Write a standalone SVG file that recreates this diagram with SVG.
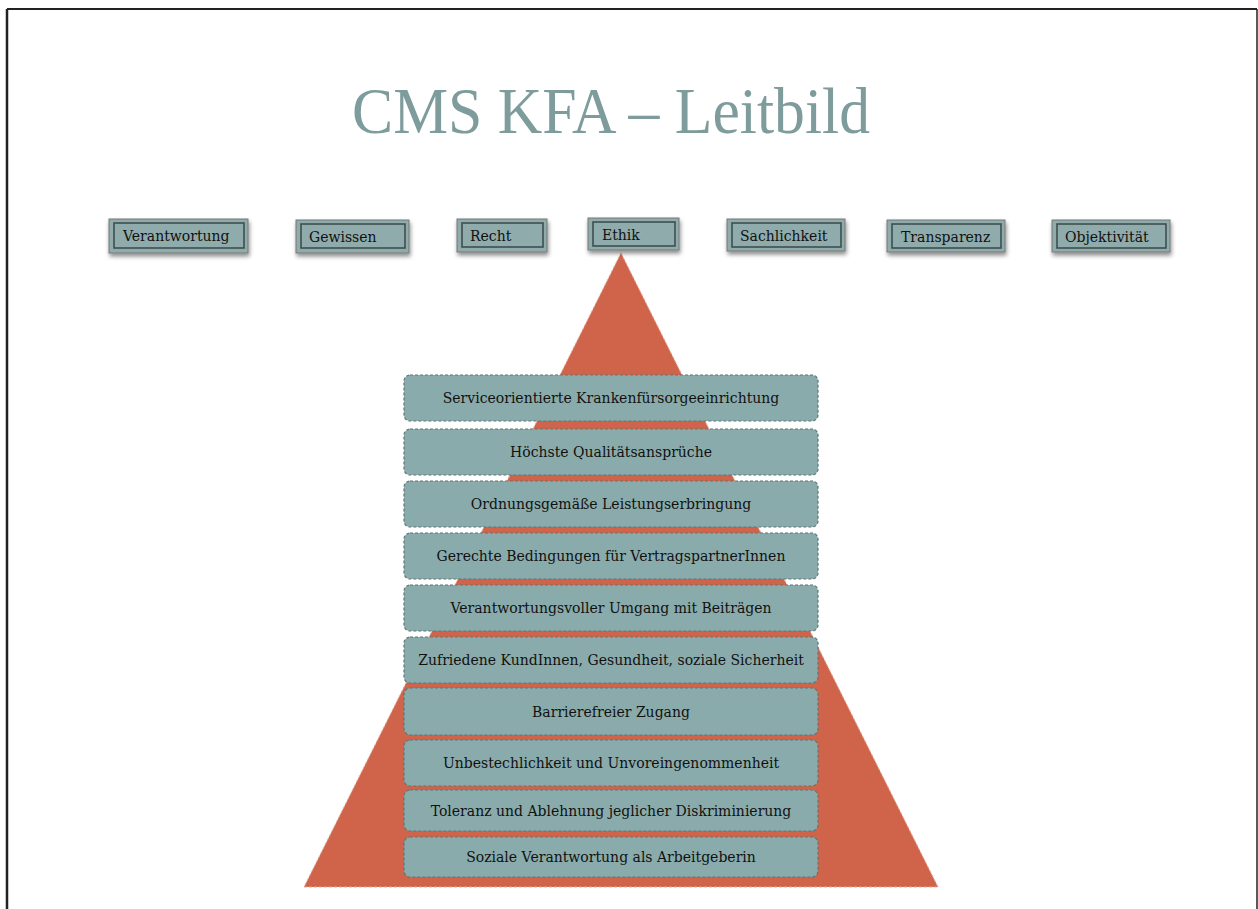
<svg xmlns="http://www.w3.org/2000/svg" width="1258" height="909" viewBox="0 0 1258 909">
<defs>
<filter id="sh" x="-20%" y="-30%" width="140%" height="170%">
<feDropShadow dx="1" dy="3" stdDeviation="2" flood-color="#000" flood-opacity="0.45"/>
</filter>
<style>
.tb{fill:#8fabab;stroke:#777;stroke-width:1}
.ti{fill:none;stroke:#3d4f4f;stroke-width:1.6}
.tt{font-family:"DejaVu Serif","Liberation Serif",serif;font-size:14px;fill:#111}
.pb{fill:#8aabab;stroke:#5e7676;stroke-width:1.2;stroke-dasharray:3 2}
.pt{font-family:"DejaVu Serif","Liberation Serif",serif;font-size:14px;fill:#111;text-anchor:middle}
</style>
</defs>
<rect width="1258" height="909" fill="#fff"/>
<g id="border" fill="none" stroke="#222">
<line x1="7" y1="9" x2="1257" y2="9" stroke-width="2"/>
<line x1="7" y1="9" x2="7" y2="909" stroke-width="2.5"/>
<line x1="1257" y1="9" x2="1257" y2="909" stroke-width="1.5"/>
</g>
<text id="title" x="352" y="133" font-family="Liberation Serif, Times New Roman, serif" font-size="66" fill="#7f9c9c" textLength="518" lengthAdjust="spacingAndGlyphs">CMS KFA – Leitbild</text>
<g id="pyramid">
<polygon points="621,253 938,887 304,887" fill="#d0644a" stroke="#eaa89a" stroke-width="1" stroke-dasharray="3 2"/>
</g>
<g id="values">
<g id="v1"><rect class="tb" x="109" y="219" width="139" height="34" filter="url(#sh)"/><rect class="ti" x="114" y="223" width="130" height="25"/><text class="tt" x="123" y="241">Verantwortung</text></g>
<g id="v2"><rect class="tb" x="296" y="220" width="113" height="33" filter="url(#sh)"/><rect class="ti" x="301" y="224" width="104" height="24"/><text class="tt" x="309" y="242">Gewissen</text></g>
<g id="v3"><rect class="tb" x="457" y="219" width="90" height="33" filter="url(#sh)"/><rect class="ti" x="462" y="223" width="81" height="24"/><text class="tt" x="470" y="241">Recht</text></g>
<g id="v4"><rect class="tb" x="588" y="218" width="91" height="32" filter="url(#sh)"/><rect class="ti" x="593" y="222" width="82" height="24"/><text class="tt" x="602" y="240">Ethik</text></g>
<g id="v5"><rect class="tb" x="727" y="219" width="118" height="32" filter="url(#sh)"/><rect class="ti" x="732" y="223" width="109" height="24"/><text class="tt" x="740" y="241">Sachlichkeit</text></g>
<g id="v6"><rect class="tb" x="887" y="220" width="118" height="32" filter="url(#sh)"/><rect class="ti" x="892" y="224" width="109" height="24"/><text class="tt" x="901" y="242">Transparenz</text></g>
<g id="v7"><rect class="tb" x="1052" y="220" width="118" height="32" filter="url(#sh)"/><rect class="ti" x="1057" y="224" width="109" height="24"/><text class="tt" x="1065" y="242">Objektivität</text></g>
</g>
<g id="levels">
<g id="l1"><rect class="pb" x="404" y="375" width="414" height="46" rx="6"/><text class="pt" x="611" y="403">Serviceorientierte Krankenfürsorgeeinrichtung</text></g>
<g id="l2"><rect class="pb" x="404" y="429" width="414" height="46" rx="6"/><text class="pt" x="611" y="457">Höchste Qualitätsansprüche</text></g>
<g id="l3"><rect class="pb" x="404" y="481" width="414" height="46" rx="6"/><text class="pt" x="611" y="509">Ordnungsgemäße Leistungserbringung</text></g>
<g id="l4"><rect class="pb" x="404" y="533" width="414" height="46" rx="6"/><text class="pt" x="611" y="561">Gerechte Bedingungen für VertragspartnerInnen</text></g>
<g id="l5"><rect class="pb" x="404" y="585" width="414" height="46" rx="6"/><text class="pt" x="611" y="613">Verantwortungsvoller Umgang mit Beiträgen</text></g>
<g id="l6"><rect class="pb" x="404" y="637" width="414" height="46" rx="6"/><text class="pt" x="611" y="665">Zufriedene KundInnen, Gesundheit, soziale Sicherheit</text></g>
<g id="l7"><rect class="pb" x="404" y="688" width="414" height="47" rx="6"/><text class="pt" x="611" y="717">Barrierefreier Zugang</text></g>
<g id="l8"><rect class="pb" x="404" y="740" width="414" height="46" rx="6"/><text class="pt" x="611" y="768">Unbestechlichkeit und Unvoreingenommenheit</text></g>
<g id="l9"><rect class="pb" x="404" y="790" width="414" height="41" rx="6"/><text class="pt" x="611" y="816">Toleranz und Ablehnung jeglicher Diskriminierung</text></g>
<g id="l10"><rect class="pb" x="404" y="837" width="414" height="40" rx="6"/><text class="pt" x="611" y="862">Soziale Verantwortung als Arbeitgeberin</text></g>
</g>
</svg>
